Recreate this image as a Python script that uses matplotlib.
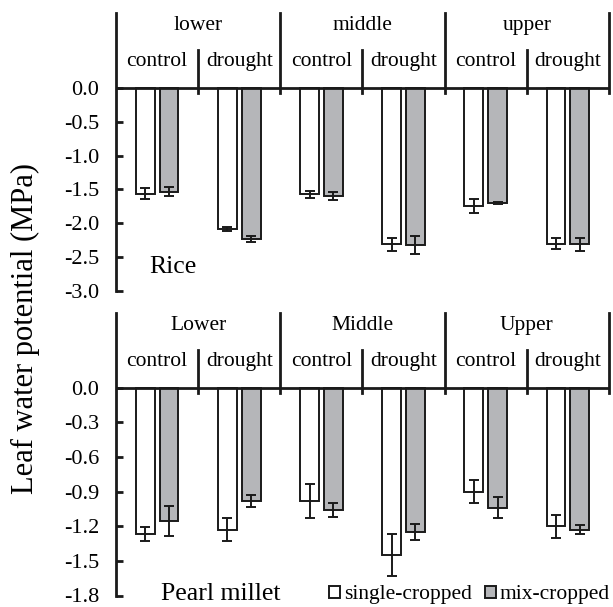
import numpy as np
import matplotlib.pyplot as plt
from matplotlib.patches import Patch

plt.rcParams['font.family'] = ['Liberation Serif', 'DejaVu Serif']

conditions = ["control", "drought"] * 3

rice_groups = ["lower", "middle", "upper"]
rice_single = [-1.56, -2.09, -1.57, -2.31, -1.74, -2.30]
rice_single_err = [0.08, 0.03, 0.05, 0.10, 0.10, 0.08]
rice_mix = [-1.53, -2.23, -1.59, -2.32, -1.70, -2.31]
rice_mix_err = [0.06, 0.04, 0.06, 0.13, 0.02, 0.10]
rice_ticks = [0.0, -0.5, -1.0, -1.5, -2.0, -2.5, -3.0]
rice_ticklabels = ["0.0", "-0.5", "-1.0", "-1.5", "-2.0", "-2.5", "-3.0"]

millet_groups = ["Lower", "Middle", "Upper"]
millet_single = [-1.27, -1.23, -0.98, -1.45, -0.90, -1.20]
millet_single_err = [0.06, 0.10, 0.15, 0.18, 0.10, 0.10]
millet_mix = [-1.15, -0.98, -1.06, -1.25, -1.04, -1.23]
millet_mix_err = [0.13, 0.05, 0.06, 0.07, 0.09, 0.04]
millet_ticks = [0.0, -0.3, -0.6, -0.9, -1.2, -1.5, -1.8]
millet_ticklabels = ["0.0", "-0.3", "-0.6", "-0.9", "-1.2", "-1.5", "-1.8"]

GREY = '#b5b6b9'
INK = '#1a1a1a'
W, H = 613, 607
FS = 15.5


def panel(ax, groups, single, single_err, mix, mix_err, ticks, ticklabels,
          ymin, px_per_unit, name, name_x, name_dy):
    top = 75 / px_per_unit
    ax.set_xlim(-0.5, 5.5)
    ax.set_ylim(ymin, top)
    x = np.arange(len(conditions))
    ekw = dict(ecolor=INK, elinewidth=1.4, capsize=3.5, capthick=1.4)
    ax.bar(x - 0.145, single, 0.23, color='white', edgecolor=INK,
           linewidth=1.4, yerr=single_err, error_kw=ekw, zorder=2)
    ax.bar(x + 0.145, mix, 0.23, color=GREY, edgecolor=INK,
           linewidth=1.4, yerr=mix_err, error_kw=ekw, zorder=2)
    ax.axhline(0, color=INK, lw=2, zorder=3)
    below = -5 / px_per_unit
    for gx in [1.5, 3.5, 5.5]:
        ax.plot([gx, gx], [below, top], color=INK, lw=2, clip_on=False)
    for sx in [0.5, 2.5, 4.5]:
        ax.plot([sx, sx], [below, 38 / px_per_unit], color=INK, lw=2,
                clip_on=False)
    for i, g in enumerate(groups):
        ax.text(2 * i + 0.5, 62 / px_per_unit, g, ha='center', va='center',
                fontsize=FS)
    for i, c in enumerate(conditions):
        ax.text(i, 26 / px_per_unit, c, ha='center', va='center', fontsize=FS)
    ax.text(name_x, ymin + name_dy / px_per_unit, name, ha='left',
            va='center', fontsize=18.5)
    for s in ['top', 'right', 'bottom']:
        ax.spines[s].set_visible(False)
    ax.spines['left'].set_linewidth(2)
    ax.spines['left'].set_color(INK)
    ax.set_xticks([])
    ax.set_yticks(ticks)
    ax.set_yticklabels(ticklabels)
    ax.tick_params(axis='y', direction='in', length=5, width=2, pad=12,
                   labelsize=16, color=INK)


fig = plt.figure(figsize=(W / 100, H / 100), dpi=100)
left = 116 / W
width = (609 - 116) / W
ax1 = fig.add_axes([left, 1 - 291 / H, width, (291 - 13) / H])
ax2 = fig.add_axes([left, 1 - 595.5 / H, width, (595.5 - 313) / H])

panel(ax1, rice_groups, rice_single, rice_single_err, rice_mix, rice_mix_err,
      rice_ticks, rice_ticklabels, -3.0, 67.67, "Rice", -0.1, 24)
panel(ax2, millet_groups, millet_single, millet_single_err, millet_mix,
      millet_mix_err, millet_ticks, millet_ticklabels, -1.8, 115.6,
      "Pearl millet", 0.05, 2)

fig.text(25 / W, 1 - 328 / H, "Leaf water potential (MPa)", rotation=90,
         ha='center', va='center', fontsize=22)

handles = [Patch(facecolor='white', edgecolor=INK, linewidth=1.4),
           Patch(facecolor=GREY, edgecolor=INK, linewidth=1.4)]
fig.legend(handles, ["single-cropped", "mix-cropped"], ncol=2,
           loc='center right', bbox_to_anchor=(610 / W, 1 - 595 / H),
           frameon=False, fontsize=FS, handlelength=0.5, handleheight=0.5,
           handletextpad=0.2, columnspacing=0.6, borderpad=0,
           borderaxespad=0)

fig.savefig("out.png", dpi=100)
